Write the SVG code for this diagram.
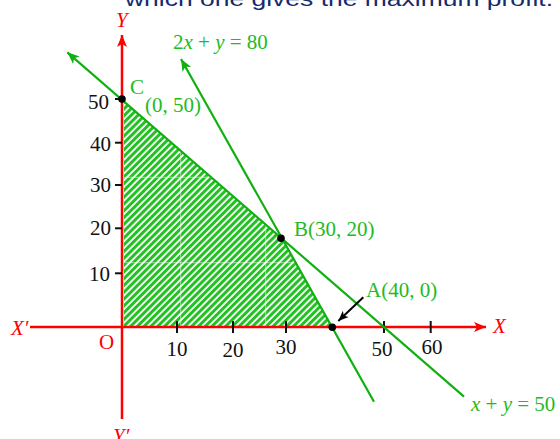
<svg xmlns="http://www.w3.org/2000/svg" width="560" height="439" viewBox="0 0 560 439">
<style>
.lbl{font-family:"Liberation Serif","Times New Roman",serif;font-size:21px}
.num{fill:#111}
.grn{fill:#22bb22}
.red{fill:#ff0000}
.it{font-style:italic}
.axis{stroke:#ff0000;stroke-width:2.5;fill:none}
.gl{stroke:#11b011;stroke-width:2.2;fill:none}
.tick{stroke:#111;stroke-width:2}
.dot{fill:#000}
</style>
<defs>
<pattern id="hatch" patternUnits="userSpaceOnUse" width="4.8" height="10" patternTransform="rotate(45)">
<rect x="0" y="0" width="4.8" height="10" fill="#ffffff"/>
<rect x="0" y="0" width="3" height="10" fill="#22c022"/>
</pattern>
<clipPath id="feas"><polygon points="124,327 124,101 281,238 332,327"/></clipPath>
<marker id="arrR" markerUnits="userSpaceOnUse" markerWidth="14" markerHeight="12" refX="12" refY="5" orient="auto" viewBox="0 0 14 10">
<path d="M0,0 L12,5 L0,10 L3,5 Z" fill="#ff0000"/>
</marker>
<marker id="arrG" markerUnits="userSpaceOnUse" markerWidth="14" markerHeight="12" refX="12" refY="5" orient="auto" viewBox="0 0 14 10">
<path d="M0,0 L12,5 L0,10 L3,5 Z" fill="#11b011"/>
</marker>
<marker id="arrK" markerUnits="userSpaceOnUse" markerWidth="12" markerHeight="10" refX="12" refY="5" orient="auto" viewBox="0 0 14 10">
<path d="M0,0 L12,5 L0,10 L3,5 Z" fill="#000"/>
</marker>
</defs>
<rect width="560" height="439" fill="#ffffff"/>
<text x="125" y="6" font-family="Liberation Sans,Arial,sans-serif" font-size="21" fill="#152a6e" textLength="428" lengthAdjust="spacingAndGlyphs">which one gives the maximum profit.</text>

<g id="feasible-region">
<polygon points="124,327 124,101 281,238 332,327" fill="url(#hatch)"/>
<g clip-path="url(#feas)" stroke="#ffffff" stroke-opacity="0.55" stroke-width="1">
<line x1="180.7" y1="90" x2="180.7" y2="330"/>
<line x1="265.7" y1="90" x2="265.7" y2="330"/>
<line x1="120" y1="177.3" x2="340" y2="177.3"/>
<line x1="120" y1="262.7" x2="340" y2="262.7"/>
</g>
</g>

<g id="axes">
<line class="axis" x1="30" y1="327" x2="486" y2="327" marker-end="url(#arrR)"/>
<line class="axis" x1="122" y1="419" x2="122" y2="35" marker-end="url(#arrR)"/>
<g class="tick">
<line x1="177" y1="321" x2="177" y2="333"/>
<line x1="233" y1="321" x2="233" y2="333"/>
<line x1="286" y1="321" x2="286" y2="333"/>
<line x1="384" y1="321" x2="384" y2="333"/>
<line x1="430.7" y1="321" x2="430.7" y2="333"/>
<line x1="115" y1="142.7" x2="122" y2="142.7"/>
<line x1="115" y1="185" x2="122" y2="185"/>
<line x1="115" y1="228.3" x2="122" y2="228.3"/>
<line x1="115" y1="273.3" x2="122" y2="273.3"/>
<line x1="115" y1="99" x2="122" y2="99"/>
</g>
<g class="lbl num" text-anchor="middle">
<text x="177" y="356">10</text>
<text x="233" y="357">20</text>
<text x="286" y="354">30</text>
<text x="382" y="356">50</text>
<text x="432" y="354">60</text>
</g>
<g class="lbl num" text-anchor="end">
<text x="109" y="109">50</text>
<text x="111" y="151">40</text>
<text x="111" y="192">30</text>
<text x="111" y="235">20</text>
<text x="110" y="281">10</text>
</g>
<text class="lbl red it" x="493" y="333">X</text>
<text class="lbl red it" x="11" y="335">X′</text>
<text class="lbl red it" x="116" y="27">Y</text>
<text class="lbl red it" x="113" y="443">Y′</text>
<text class="lbl red" x="99" y="349">O</text>
</g>

<g id="connectors">
<line id="line-x-plus-y-50" class="gl" x1="464" y1="396.7" x2="67.3" y2="52.3" marker-end="url(#arrG)"/>
<line id="line-2x-plus-y-80" class="gl" x1="374" y1="401.7" x2="181" y2="59" marker-end="url(#arrG)"/>
<line id="pointer-A" x1="363.3" y1="297.3" x2="338.3" y2="321" stroke="#000" stroke-width="2" marker-end="url(#arrK)"/>
</g>

<g id="label-2x-y-80"><text class="lbl grn" x="173" y="49"><tspan>2</tspan><tspan class="it">x</tspan> + <tspan class="it">y</tspan> = 80</text></g>
<g id="label-x-y-50"><text class="lbl grn" x="471" y="411"><tspan class="it">x</tspan> + <tspan class="it">y</tspan> = 50</text></g>

<g id="node-C">
<circle class="dot" cx="122" cy="99" r="3.8"/>
<text class="lbl grn" x="130" y="94">C</text>
<text class="lbl grn" x="145" y="112">(0, 50)</text>
</g>
<g id="node-B">
<circle class="dot" cx="281" cy="238.3" r="3.8"/>
<text class="lbl grn" x="294" y="236">B(30, 20)</text>
</g>
<g id="node-A">
<circle class="dot" cx="332.3" cy="327.3" r="3.8"/>
<text class="lbl grn" x="366" y="297">A(40, 0)</text>
</g>
</svg>
